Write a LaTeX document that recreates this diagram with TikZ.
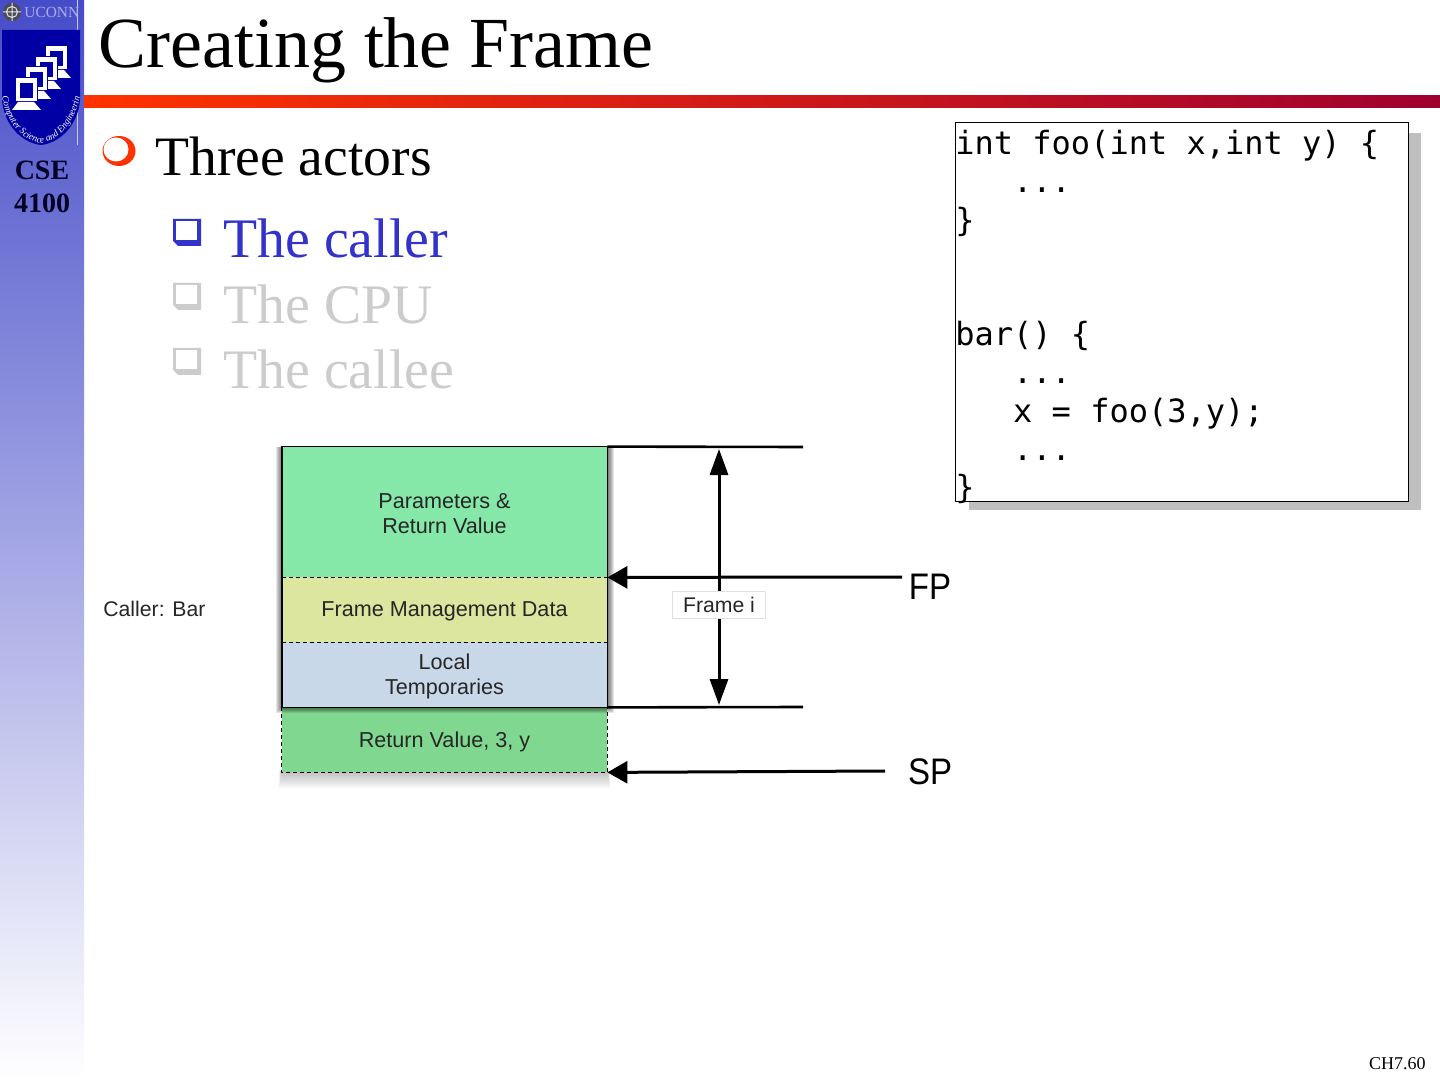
\documentclass[tikz,border=0pt]{standalone}
\usepackage{fontspec}
\setmainfont{Liberation Serif}
\setsansfont{Liberation Sans}
\setmonofont{DejaVu Sans Mono}
\usepackage{tikz}
\usetikzlibrary{arrows.meta,decorations.text}
\definecolor{sidetop}   {RGB}{70,76,200}
\definecolor{rulered}   {RGB}{255,51,0}
\definecolor{ruledark}  {RGB}{160,0,48}
\definecolor{callerblue}{RGB}{51,51,204}
\definecolor{muted}     {RGB}{204,204,204}
\definecolor{shieldblue}{RGB}{0,0,165}
\definecolor{paramgreen}{RGB}{133,232,168}
\definecolor{mgmtyellow}{RGB}{220,230,158}
\definecolor{tempblue}  {RGB}{200,216,232}
\definecolor{retgreen}  {RGB}{128,216,144}
\definecolor{codeshadow}{RGB}{191,191,191}

\begin{document}
\begin{tikzpicture}[x=0.5pt,y=-0.5pt,
          txt/.style={anchor=base west,inner sep=0pt},
          block/.style={rectangle,inner sep=0pt,minimum width=162.5pt},
          blocktxt/.style={inner sep=0pt,align=center,text=black!85,yshift=-1pt,
            font=\sffamily\fontsize{10.8}{12.5}\selectfont},
          level/.style={line width=1.3pt},
          pointer/.style={line width=1.5pt,-{Triangle[length=10pt,width=11pt]}},
          span/.style={line width=1.5pt,{Triangle[length=13pt,width=9pt]}-{Triangle[length=13pt,width=9pt]}},
          divider/.style={dash pattern=on 2pt off 1.5pt,line width=0.6pt}
      ]
        \useasboundingbox (0,0) rectangle (1440,1080);
        \fill[white] (0,0) rectangle (1440,1080);
        % sidebar and rule
        \shade[top color=sidetop,bottom color=white] (0,0) rectangle (84,1080);
        \shade[left color=rulered,right color=ruledark] (84,96) rectangle (1440,108);
        \draw[white!70!sidetop,line width=0.4pt] (77,0) -- (77,145);
        % crest
        \fill[black!70] (12,12) circle (9);
        \draw[white!85!sidetop,line width=0.5pt] (12,12) circle (5.5) (12,3) -- (12,21) (3,12) -- (21,12);
        \node[txt,text=white!55!sidetop,font=\fontsize{7.7}{9}\selectfont] (uconn) at (24,18) {UCONN};
        \fill[shieldblue] (2,30) -- (80,30) -- (80,100) .. controls (78,125) and (60,143) .. (41,145)
              .. controls (22,143) and (4,125) .. (2,100) -- cycle;
        \foreach \dx/\dy in {30/-32,20/-21,10/-11,0/0}{
          \begin{scope}[shift={(\dx,\dy)}]
            \fill[white,draw=shieldblue,line width=0.5pt] (15,78) rectangle (37,102);
            \fill[shieldblue] (20,83) rectangle (33,98);
            \fill[white] (18,102) -- (34,102) -- (41,110) -- (12,110) -- cycle;
          \end{scope}
        }
        \path[postaction={decorate,decoration={text along path,text align=center,
              text={|\itshape\fontsize{4.7}{6}\selectfont\color{white}|Computer Science and Engineering}}}]
              (3,101) .. controls (8,125) and (24,141) .. (41,143) .. controls (58,141) and (74,125) .. (80,97);
        \node[anchor=base,inner sep=0pt,font=\bfseries\fontsize{14}{16}\selectfont,text=black!85!blue] (cse) at (42,180) {CSE};
        \node[anchor=base,inner sep=0pt,font=\bfseries\fontsize{14}{16}\selectfont,text=black!85!blue] (num) at (42,213) {4100};
        % headline and list
        \node[txt,font=\fontsize{35.95}{40}\selectfont] (title) at (98,68) {Creating the Frame};
        \fill[rulered] (119,151) ellipse (16.5 and 15);
        \fill[white] (116,149.5) ellipse (12.5 and 12);
        \node[txt,font=\fontsize{27.8}{32}\selectfont] (actors) at (155,176) {Three actors};
        \foreach \dy/\col in {0/callerblue,64/muted,129/muted}{
          \fill[\col] (173,219+\dy) -- (201,219+\dy) -- (201,246+\dy) -- (178,246+\dy) -- (173,241+\dy) -- cycle;
          \fill[white] (176,221+\dy) rectangle (197,240+\dy);
        }
        \node[txt,text=callerblue,font=\fontsize{27.9}{32}\selectfont] (caller) at (223,258) {The caller};
        \node[txt,text=muted,font=\fontsize{27.9}{32}\selectfont] (cpu) at (223,324) {The CPU};
        \node[txt,text=muted,font=\fontsize{27.9}{32}\selectfont] (callee) at (223,389) {The callee};
        % code box
        \fill[codeshadow] (969,133) rectangle (1421,510);
        \draw[fill=white,line width=0.45pt] (955,122) rectangle (1408,501);
        \node[anchor=north west,inner sep=0pt,align=left,font=\ttfamily\fontsize{16}{19.1}\selectfont] (code) at (955,130) {%
          int foo(int x,int y) \{\\
          ~~~...\\
          \}\\
          ~\\
          ~\\
          bar() \{\\
          ~~~...\\
          ~~~x = foo(3,y);\\
          ~~~...\\
          \}};
        % soft shadows
        \foreach \g in {2,4,...,16}
          \fill[black,opacity=0.03] (282-\g*0.2,771) rectangle (607+\g*0.2,772+\g);
        \node[block,fill=retgreen,minimum height=32.5pt] (ret) at (444.5,739.5) {};
        \draw[divider] (ret.north west) -- (ret.south west) -- (ret.south east) -- (ret.north east);
        \foreach \g in {1,2,...,6}
          \fill[black,opacity=0.1] (282-\g,447) rectangle (608+\g,707+\g);
        % frame
        \node[block,fill=paramgreen,minimum height=65pt] (params) at (444.5,512) {};
        \node[block,fill=mgmtyellow,minimum height=32.5pt] (mgmt) at (444.5,609.5) {};
        \node[block,fill=tempblue,minimum height=32.5pt] (temps) at (444.5,674.5) {};
        \draw[divider] (params.south west) -- (params.south east);
        \draw[divider] (mgmt.south west) -- (mgmt.south east);
        \draw[line width=0.9pt] (params.north west) rectangle (temps.south east);
        \node[blocktxt] (paramstxt) at (params) {Parameters \&\\Return Value};
        \node[blocktxt] (mgmttxt) at (mgmt) {Frame Management Data};
        \node[blocktxt] (tempstxt) at (temps) {Local\\Temporaries};
        \node[blocktxt] (rettxt) at (ret) {Return Value, 3, y};
        \node[txt,font=\sffamily\fontsize{10.6}{12}\selectfont,text=black!85] (bar) at (103,616) {Caller: Bar};
        % levels and pointers
        \coordinate (topend) at (803,447);
        \coordinate (botend) at (803,707);
        \coordinate (toparrow) at (719,449);
        \coordinate (botarrow) at (719,705);
        \node[anchor=base,inner sep=0pt,font=\sffamily\fontsize{16.5}{18}\selectfont] (fp) at (930,599) {\scalebox{1}[1.12]{FP}};
        \node[anchor=base,inner sep=0pt,font=\sffamily\fontsize{16.5}{18}\selectfont] (sp) at (930,784) {\scalebox{1}[1.12]{SP}};
        \coordinate (fpstart) at (902,577);
        \coordinate (spstart) at (885,771);
        \draw[level] (params.north east) -- (topend);
        \draw[level] (temps.south east) -- (botend);
        \draw[pointer] (fpstart) -- (params.south east);
        \draw[pointer] (spstart) -- (ret.south east);
        \draw[span] (toparrow) -- (botarrow)
              node[pos=0.61,fill=white,draw=black!12,line width=0.4pt,inner sep=0pt,minimum width=46.5pt,minimum height=13.5pt,
                   font=\sffamily\fontsize{10.6}{12}\selectfont,text=black!85] (framei) {Frame i};
        \node[anchor=base east,inner sep=0pt,font=\fontsize{9}{11}\selectfont] (page) at (1426,1069) {CH7.60};
      \end{tikzpicture}
\end{document}
